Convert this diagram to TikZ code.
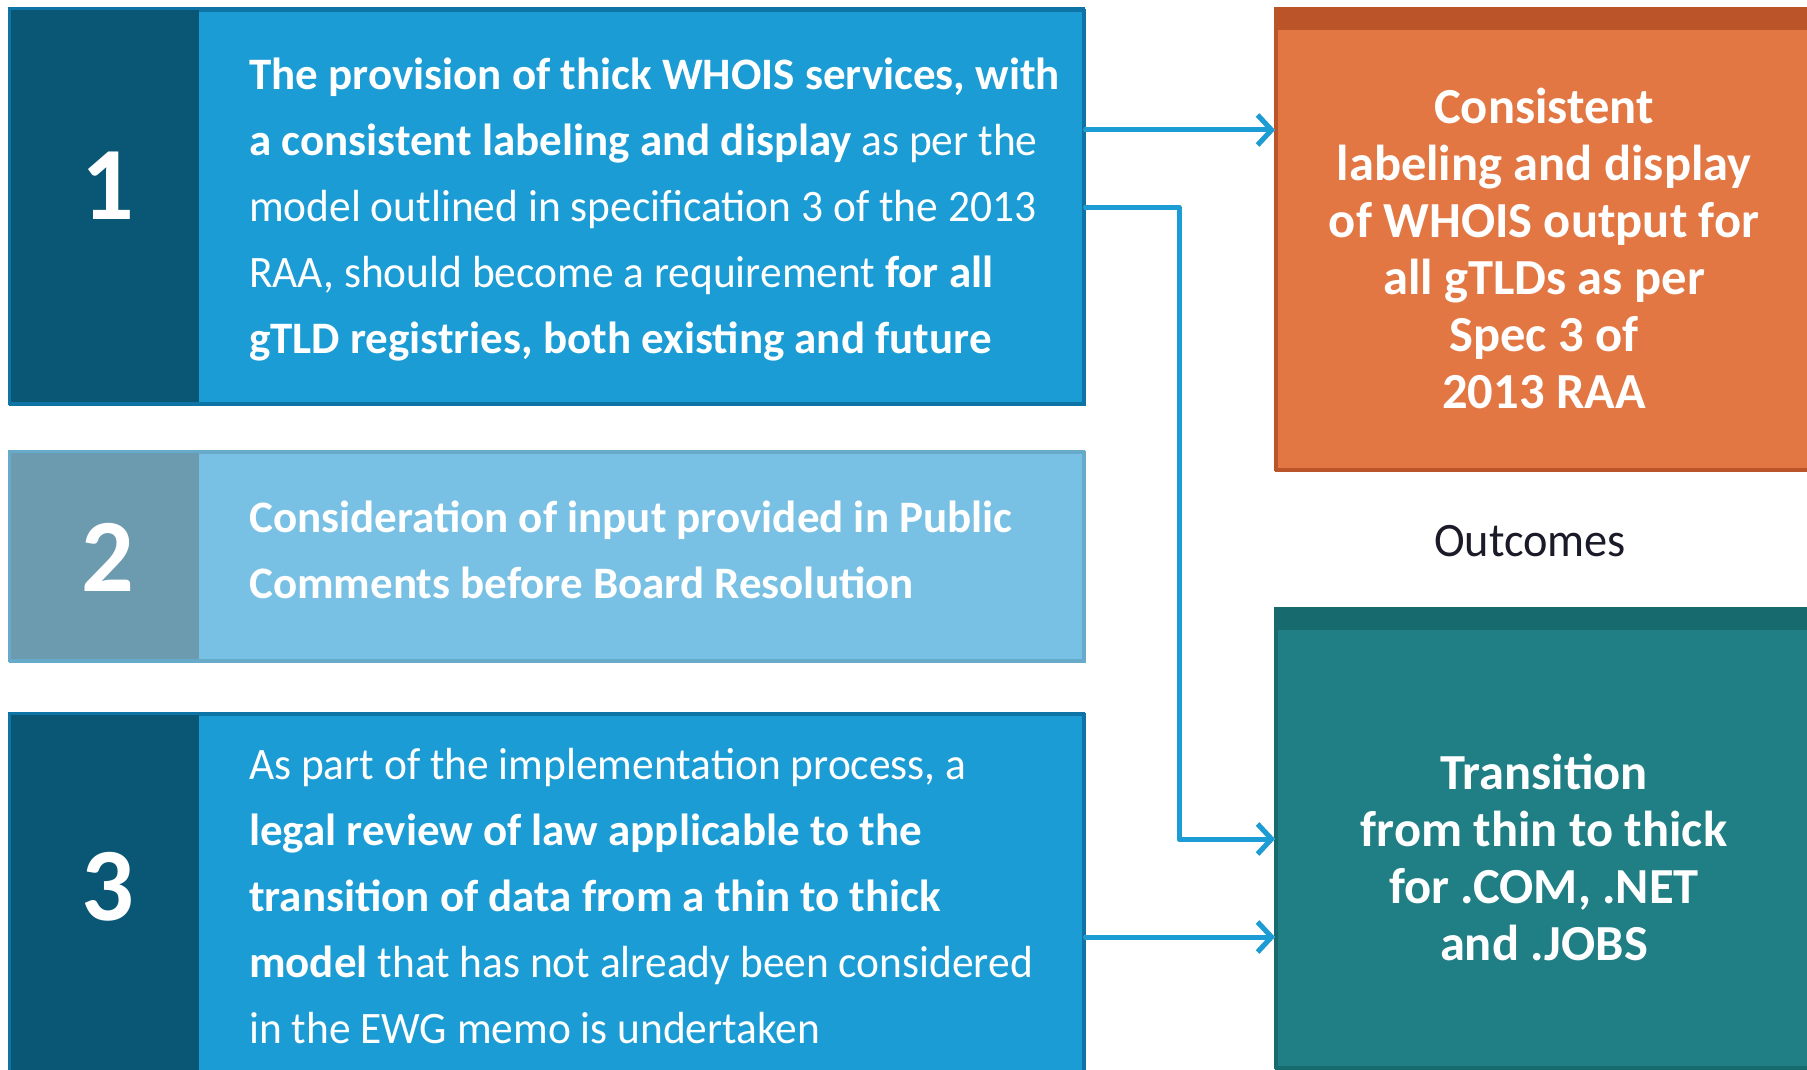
\documentclass[tikz,border=0pt]{standalone}
\usepackage{fontspec}
\setmainfont{Carlito}[UprightFeatures={FakeStretch=0.965}]
\usetikzlibrary{arrows.meta}
\definecolor{bblue}{HTML}{1B9CD4}
\definecolor{bblueborder}{HTML}{0E74A6}
\definecolor{bstrip}{HTML}{0A5675}
\definecolor{lblue}{HTML}{79C1E4}
\definecolor{lblueborder}{HTML}{68AACA}
\definecolor{lstrip}{HTML}{6C9AAE}
\definecolor{orangef}{HTML}{E37744}
\definecolor{orangetop}{HTML}{BB5529}
\definecolor{tealf}{HTML}{1F7F84}
\definecolor{tealtop}{HTML}{176A6E}
\definecolor{outtext}{HTML}{1A1A28}
\tikzset{
  boxbase/.style={rectangle, inner sep=0pt, anchor=north west, line width=3pt},
  darkbox/.style={boxbase, fill=bblue, draw=bblueborder},
  lightbox/.style={boxbase, fill=lblue, draw=lblueborder},
  outbox/.style={boxbase, line width=3pt},
  boxtext/.style={text=white, align=left, inner sep=0pt, anchor=west, font=\fontsize{45}{66}\selectfont},
  outtxt/.style={text=white, align=center, inner sep=0pt, font=\bfseries\fontsize{50.5}{57}\selectfont},
  numtxt/.style={text=white, inner sep=0pt, font=\bfseries\fontsize{104}{104}\selectfont},
  arr/.style={draw=bblue, line width=5pt, line cap=round, line join=round, -{Straight Barb[length=14pt,width=30pt,line width=5pt]}},
  arrshadow/.style={draw=black!20, line width=5pt, line cap=round, line join=round, -{Straight Barb[length=14pt,width=30pt,line width=5pt]}}
}
\begin{document}
\begin{tikzpicture}[x=1pt,y=-1pt]
\useasboundingbox (0,0) rectangle (1807,1070);
\fill[white] (0,0) rectangle (1807,1070);

% left boxes
\node[darkbox, minimum width=1074pt, minimum height=394pt] (b1) at (9,9) {};
\fill[bstrip] (9,9) rectangle (199,403);
\draw[bblueborder, line width=3pt] (9,9) rectangle (1083,403);

\node[lightbox, minimum width=1074pt, minimum height=209pt] (b2) at (9,451) {};
\fill[lstrip] (9,451) rectangle (199,660);
\draw[lblueborder, line width=3pt] (9,451) rectangle (1083,660);

\node[darkbox, minimum width=1074pt, minimum height=362pt] (b3) at (9,713) {};
\fill[bstrip] (9,713) rectangle (199,1075);
\draw[bblueborder, line width=3pt] (9,713) rectangle (1083,1075);

% outcome boxes
\node[outbox, fill=orangef, draw=orangetop, minimum width=540pt, minimum height=460pt] (o) at (1275,9) {};
\fill[orangetop] (1275,9) rectangle (1815,30);
\draw[orangetop, line width=3pt] (1275,9) rectangle (1815,469);

\node[outbox, fill=tealf, draw=tealtop, minimum width=540pt, minimum height=459pt] (t) at (1275,608) {};
\fill[tealtop] (1275,608) rectangle (1815,630);
\draw[tealtop, line width=3pt] (1275,608) rectangle (1815,1067);

% numbers
\node[numtxt] (n1) at (108,186) {1};
\node[numtxt] (n2) at (108,557) {2};
\node[numtxt] (n3) at (108,887) {3};

% box texts
\node[boxtext] (t1) at (249,210) {\textbf{The provision of thick WHOIS services, with}\\
\textbf{a consistent labeling and display} as per the\\
model outlined in specification 3 of the 2013\\
RAA, should become a requirement \textbf{for all}\\
\textbf{gTLD registries, both existing and future}};

\node[boxtext] (t2) at (249,550) {\textbf{Consideration of input provided in Public}\\
\textbf{Comments before Board Resolution}};

\node[boxtext] (t3) at (249,896) {As part of the implementation process, a\\
\textbf{legal review of law applicable to the}\\
\textbf{transition of data from a thin to thick}\\
\textbf{model} that has not already been considered\\
in the EWG memo is undertaken};

\node[outtxt] (ot) at (1544,248) {Consistent\\labeling and display\\of WHOIS output for\\all gTLDs as per\\Spec 3 of\\2013 RAA};
\node[outtxt] (tt) at (1544,857) {Transition\\from thin to thick\\for .COM, .NET\\and .JOBS};

\node[text=outtext, inner sep=0pt, font=\fontsize{48}{48}\selectfont] (lab) at (1530,541) {Outcomes};

% connectors
\coordinate (c1s) at ([yshift=-121pt]b1.north east);
\coordinate (c1e) at ([yshift=-121pt]o.north west);
\coordinate (c3s) at ([yshift=-224pt]b3.north east);
\coordinate (c3e) at ([yshift=-329pt]t.north west);
\coordinate (bend) at (1179,0);

\begin{scope}[shift={(1.5,2.5)}]
\draw[arrshadow] (c1s) -- (c1e);
\draw[arrshadow] (b1.east) -| (bend |- t.west) -- (t.west);
\draw[arrshadow] (c3s) -- (c3e);
\end{scope}
\draw[arr] (c1s) -- (c1e);
\draw[arr] (b1.east) -| (bend |- t.west) -- (t.west);
\draw[arr] (c3s) -- (c3e);
\end{tikzpicture}
\end{document}
